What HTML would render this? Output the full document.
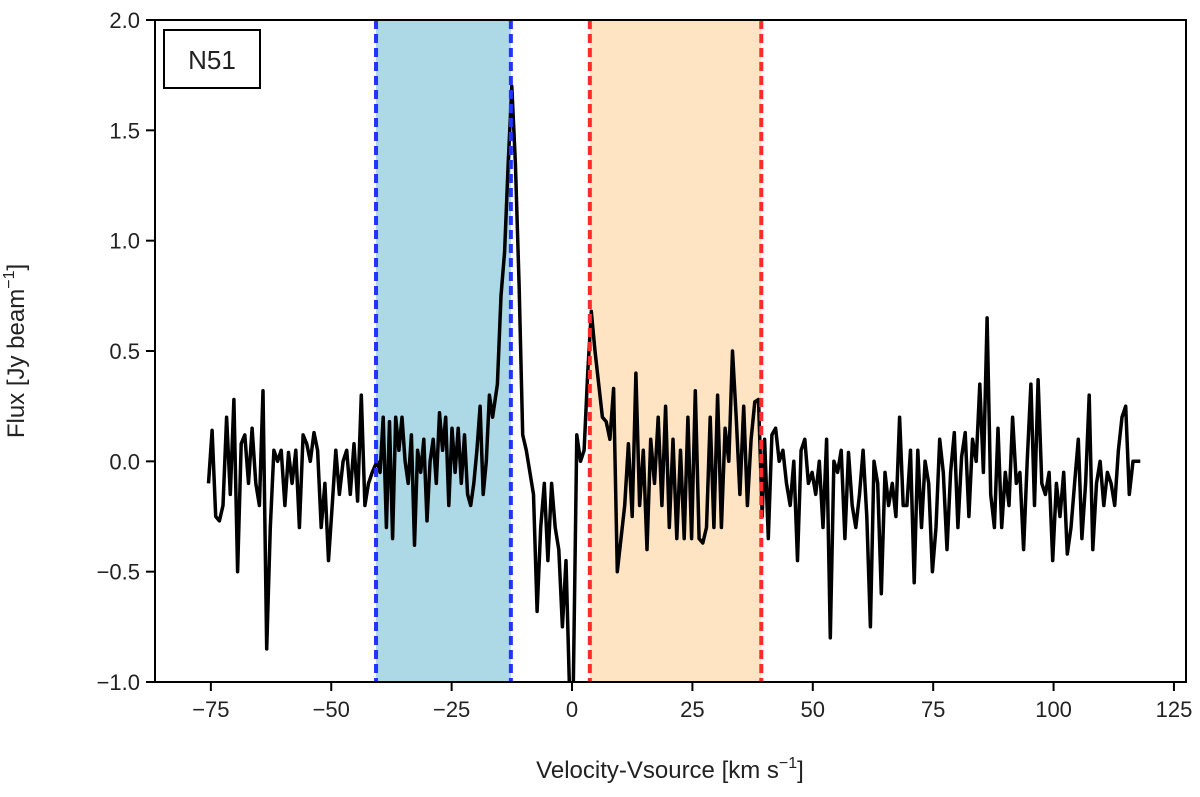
<!DOCTYPE html>
<html><head><meta charset="utf-8"><style>
body{margin:0;background:#fff;}
svg text{font-family:"Liberation Sans","DejaVu Sans",sans-serif;fill:#222;}
</style></head><body>
<svg id="chart" width="1200" height="792" viewBox="0 0 1200 792" xmlns="http://www.w3.org/2000/svg">
<defs><clipPath id="plotclip"><rect x="155" y="20" width="1031" height="662"/></clipPath></defs>
<g id="bands" clip-path="url(#plotclip)"></g>
<g id="series" clip-path="url(#plotclip)"></g>
<g id="axes"></g>
<rect x="164" y="30" width="96" height="58" fill="#fff" stroke="#000" stroke-width="2"/>
<text x="212" y="69" font-size="26" text-anchor="middle">N51</text>
<text x="670" y="778" font-size="24" text-anchor="middle">Velocity-Vsource [km s<tspan dy="-10" font-size="16">−1</tspan><tspan dy="10">]</tspan></text>
<text transform="translate(24,351) rotate(-90)" font-size="24" text-anchor="middle">Flux [Jy beam<tspan dy="-10" font-size="16">−1</tspan><tspan dy="10">]</tspan></text>
</svg>
<script>
const xTicks=[-75,-50,-25,0,25,50,75,100,125];
const xTickLabels=["−75","−50","−25","0","25","50","75","100","125"];
const yTicks=[-1.0,-0.5,0.0,0.5,1.0,1.5,2.0];
const yTickLabels=["−1.0","−0.5","0.0","0.5","1.0","1.5","2.0"];
const blueBand=[-40.7,-12.7];
const redBand=[3.7,39.3];
const segStart=[-75.5,-40.5,-15.5,4.0,40.0];
const segEnd=[-41.5,-16.5,3.25,39.5,118.0];
const fluxA=[-0.1,0.14,-0.25,-0.27,-0.2,0.2,-0.15,0.28,-0.5,0.08,0.12,-0.1,0.15,-0.1,-0.2,0.32,-0.85,-0.3,0.05,0.0,0.05,-0.2,0.04,-0.1,0.05,-0.3,0.12,0.08,0.0,0.13,0.05,-0.3,-0.1,-0.45,-0.2,0.05,-0.15,0.0,0.05,-0.15,0.08,-0.18,0.3,-0.2,-0.1,-0.05];
const fluxB=[0.0,-0.05,0.2,-0.3,0.18,-0.35,0.2,0.05,0.2,0.0,-0.1,0.12,-0.38,0.05,-0.05,0.1,-0.27,0.0,0.1,-0.1,0.22,0.05,0.2,-0.2,0.15,-0.05,0.15,-0.1,0.12,-0.15,-0.2,-0.1,0.05,0.25,-0.15,0.0,0.3,0.2];
const fluxC=[0.35,0.75,0.95,1.35,1.7,1.35,0.8,0.12,0.05,-0.05,-0.15,-0.68,-0.3,-0.1,-0.45,-0.1,-0.3,-0.4,-0.75,-0.45,-1.05,-1.05,0.12,0.0,0.05,0.4];
const fluxD=[0.68,0.5,0.35,0.2,0.18,0.1,0.33,-0.5,-0.35,-0.2,0.08,-0.25,0.4,-0.2,0.05,-0.4,0.1,-0.1,0.2,-0.2,0.25,-0.3,0.1,-0.35,0.05,-0.35,0.2,-0.35,0.32,-0.35,-0.37,-0.3,0.2,-0.3,0.3,-0.3,0.15,0.0,0.5,0.2,-0.15,0.25,-0.2,0.1,0.27,0.28,-0.25];
const fluxE=[0.1,-0.35,0.12,0.15,0.0,0.05,-0.1,-0.2,0.0,-0.45,0.05,0.1,-0.1,-0.05,-0.15,0.0,-0.3,0.1,-0.8,0.0,-0.05,0.05,-0.35,0.04,-0.2,-0.3,-0.15,0.05,-0.25,-0.75,0.0,-0.1,-0.6,-0.05,-0.2,-0.1,-0.25,0.2,-0.2,-0.2,0.05,-0.55,0.05,-0.3,0.0,-0.1,-0.5,-0.3,0.1,-0.05,-0.4,-0.05,0.13,-0.3,0.02,0.13,-0.25,0.1,0.0,0.35,-0.05,0.65,-0.15,-0.3,0.15,-0.3,-0.05,-0.2,0.2,-0.1,-0.05,-0.4,0.0,0.35,-0.2,0.37,-0.1,-0.15,-0.05,-0.45,-0.1,-0.25,-0.05,-0.42,-0.3,-0.1,0.1,-0.35,-0.1,0.3,-0.4,-0.1,0.0,-0.2,-0.05,-0.1,-0.2,0.05,0.2,0.25,-0.15,0.0,0.0,0.0];

const NS="http://www.w3.org/2000/svg";
const L=155,R=1186,T=20,B=682;
const xMin=-86.6,xMax=127.5,yMin=-1.0,yMax=2.0;
function xs(v){return L+(v-xMin)/(xMax-xMin)*(R-L);}
function ys(v){return B-(v-yMin)/(yMax-yMin)*(B-T);}
function mk(tag,attrs,parent){const e=document.createElementNS(NS,tag);for(const k in attrs)e.setAttribute(k,attrs[k]);parent.appendChild(e);return e;}

const bands=document.getElementById('bands');
let r=mk('rect',{x:xs(blueBand[0]),y:T,width:xs(blueBand[1])-xs(blueBand[0]),height:B-T,fill:'#add8e6'},bands);


r=mk('rect',{x:xs(redBand[0]),y:T,width:xs(redBand[1])-xs(redBand[0]),height:B-T,fill:'#ffe4c4'},bands);



const segs=[fluxA,fluxB,fluxC,fluxD,fluxE];
let pts=[];
segs.forEach((arr,i)=>{const n=arr.length;arr.forEach((f,j)=>{const v=segStart[i]+(n>1?(segEnd[i]-segStart[i])*j/(n-1):0);pts.push(xs(v).toFixed(1)+','+ys(f).toFixed(1));});});
const series=document.getElementById('series');
const line=mk('polyline',{points:pts.join(' '),fill:'none',stroke:'#000','stroke-width':3.5,'stroke-linejoin':'round'},series);



[[blueBand[0],'#2233ff'],[blueBand[1],'#2233ff'],[redBand[0],'#ff2a2a'],[redBand[1],'#ff2a2a']].forEach((d,i)=>{
  const l=mk('line',{x1:xs(d[0]),x2:xs(d[0]),y1:T,y2:B,stroke:d[1],'stroke-width':4,'stroke-dasharray':'9,5'},series);
  
  
});

const axes=document.getElementById('axes');
const frame=mk('rect',{x:L,y:T,width:R-L,height:B-T,fill:'none',stroke:'#000','stroke-width':2},axes);


xTicks.forEach((t,i)=>{
  const x=xs(t);
  mk('line',{x1:x,x2:x,y1:B,y2:B+9,stroke:'#000','stroke-width':2},axes);
  const tx=mk('text',{x:x,y:B+35,'font-size':22,'text-anchor':'middle'},axes);
  tx.textContent=xTickLabels[i];
  
  
});
yTicks.forEach((t,i)=>{
  const y=ys(t);
  mk('line',{x1:L-9,x2:L,y1:y,y2:y,stroke:'#000','stroke-width':2},axes);
  const tx=mk('text',{x:L-15,y:y+8,'font-size':22,'text-anchor':'end'},axes);
  tx.textContent=yTickLabels[i];
  
  
});
</script>
</body></html>
